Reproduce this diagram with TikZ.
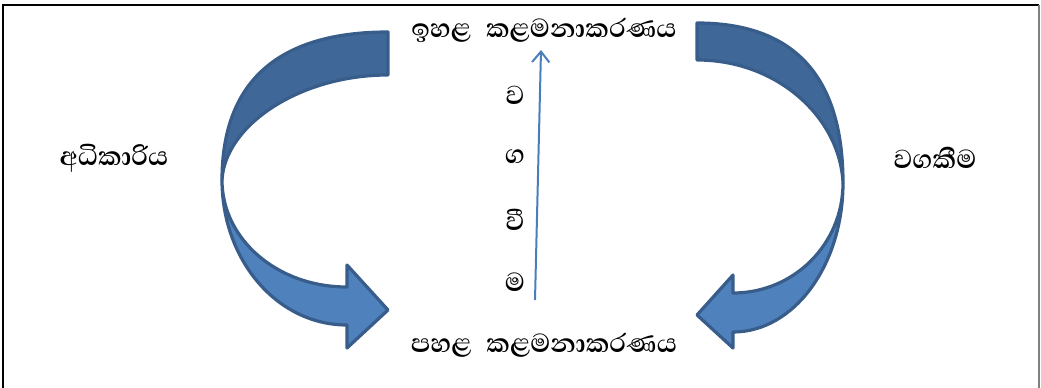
\documentclass[tikz,border=0pt]{standalone}
\usepackage{fontspec}
\usepackage{tikz}
\usetikzlibrary{arrows.meta,positioning}
\newfontfamily\sinhalafont[Script=Sinhala]{Abhaya Libre}
\definecolor{arrowLine}{HTML}{385D8A}
\definecolor{arrowFront}{HTML}{4F81BD}
\definecolor{arrowBack}{HTML}{3F6797}
\definecolor{levelLine}{HTML}{4A7EBB}

\begin{document}
\begin{tikzpicture}[x=0.75pt, y=-0.75pt,
      label/.style={font=\sinhalafont\bfseries\fontsize{25}{30}\selectfont, text=black, inner sep=0pt},
      letter/.style={font=\sinhalafont\bfseries\fontsize{25}{30}\selectfont, text=black, inner sep=0pt},
      bandBack/.style={draw=arrowLine, fill=arrowBack, line width=2.4pt, line join=round},
      bandFront/.style={draw=arrowLine, fill=arrowFront, line width=2.4pt, line join=round},
      level/.style={-{Straight Barb[length=8pt, width=13pt]}, draw=levelLine, line width=1.5pt}
    ]
      \useasboundingbox (0,0) rectangle (1041,388);
      % frame
      \draw[line width=1.5pt, black] (3,388) -- (3,5) -- (1039,5);
      \draw[line width=0.8pt, gray] (1039,5) -- (1039,388);

      % texts
      \node[label] (upper) at (544,30) {ඉහළ\hspace{0.45em}කළමනාකරණය};
      \node[label] (lower) at (544,345) {පහළ\hspace{0.45em}කළමනාකරණය};
      \node[label] (authority) at (114,158) {අධිකාරිය};
      \node[label] (duty) at (935,158) {වගකීම};
      \node[letter] (l1) at (515,95) {ව};
      \node[letter] (l2) at (515,157) {ග};
      \node[letter] (l3) at (515,220) {වී};
      \node[letter] (l4) at (515,282) {ම};

      % left curved arrow
      \draw[bandFront] (222,180) .. controls (222,260) and (277,325) .. (347,325)
        -- (347,348) -- (388,310) -- (347,265) -- (347,287)
        .. controls (277,287) and (222,239) .. (222,180) -- cycle;
      \draw[bandBack] (388,32) .. controls (280,32) and (222,80) .. (222,180)
        .. controls (225,125) and (300,75) .. (388,75) -- cycle;

      % right curved arrow
      \draw[bandFront] (843,183) .. controls (843,265) and (794,332) .. (733,332)
        -- (733,348) -- (697,315) -- (733,275) -- (733,293)
        .. controls (794,293) and (843,244) .. (843,183) -- cycle;
      \draw[bandBack] (697,23) .. controls (792,23) and (843,74) .. (843,183)
        .. controls (840,118) and (778,60) .. (697,60) -- cycle;

      % vertical arrow
      \coordinate (vbot) at (535,300);
      \coordinate (vtop) at (541,50);
      \draw[level] (vbot) -- (vtop);
    \end{tikzpicture}
\end{document}
